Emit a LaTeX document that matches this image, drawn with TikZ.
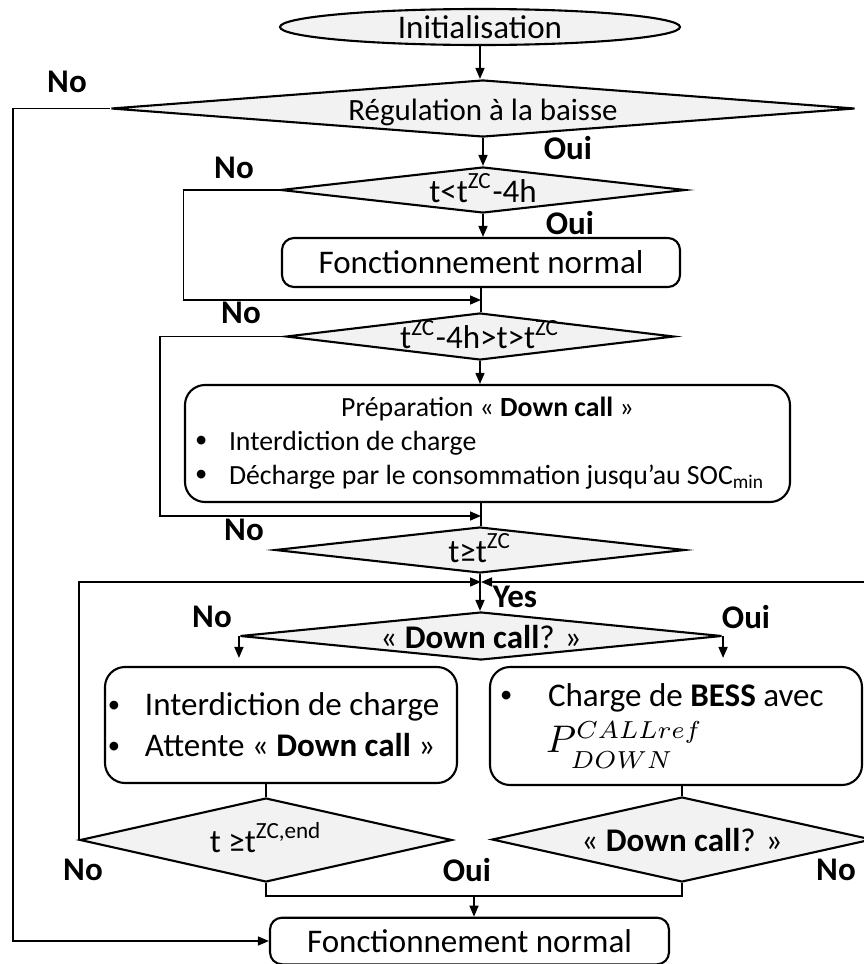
\documentclass[tikz,border=0pt]{standalone}
\usepackage{fontspec}
\setmainfont{Carlito}
\usetikzlibrary{arrows.meta, positioning, shapes.geometric}

\newcommand{\bul}[1]{\makebox[#1][l]{\fontsize{7pt}{7pt}\selectfont\raisebox{0.3ex}{\textbullet}}}

\begin{document}
\begin{tikzpicture}[
    font=\fontsize{9.4pt}{11pt}\selectfont,
    term/.style={ellipse, draw=black, line width=0.6pt, fill=black!5, inner sep=0pt},
    dec/.style={diamond, draw=black, line width=0.6pt, fill=black!5, inner sep=0pt,
                text height=0.7em, text depth=0pt},
    proc/.style={draw=black, line width=0.6pt, rounded corners=1.2mm, fill=white},
    fl/.style={-{Triangle[length=1.1mm, width=0.9mm]}, line width=0.45pt},
    ln/.style={line width=0.45pt},
    lab/.style={font=\fontsize{9.4pt}{11pt}\selectfont\bfseries}
  ]
    \useasboundingbox (0,0) rectangle (8.64,-9.64);
    % ---- départ ----
    \node[term, minimum width=40mm, minimum height=3.6mm] (init) at (4.80,-0.27) {Initialisation};
    \node[dec, minimum width=74.4mm, minimum height=5.7mm, shape aspect=13,
          font=\fontsize{8.8pt}{10pt}\selectfont] (reg) at (4.83,-1.085) {Régulation à la baisse};
    % ---- avant la fenêtre ----
    \node[dec, minimum width=40.5mm, minimum height=4.6mm, shape aspect=8.8] (avant) at (4.83,-1.90)
      {t<t\textsuperscript{ZC}-4h};
    \node[proc, minimum width=39.8mm, minimum height=4.9mm] (normal1) at (4.81,-2.625) {Fonctionnement normal};
    \coordinate (j1) at (4.81,-3.00);
    \node[dec, minimum width=38.8mm, minimum height=4.7mm, shape aspect=8.3] (fenetre) at (4.80,-3.365)
      {t\textsuperscript{ZC}-4h>t>t\textsuperscript{ZC}};
    % ---- préparation ----
    \node[proc, rounded corners=2mm, text width=58.5mm, inner xsep=1mm, minimum height=11.7mm,
          align=flush left, font=\fontsize{7.9pt}{9.7pt}\selectfont] (prep) at (4.875,-4.435)
      {{\centering Préparation « \textbf{Down call} »\par}
       \bul{3.4mm}Interdiction de charge\\
       \bul{3.4mm}Décharge par le consommation jusqu’au SOC\textsubscript{min}};
    \coordinate (j2) at (4.81,-5.16);
    \node[dec, minimum width=41mm, minimum height=4.6mm, shape aspect=8.9] (zc) at (4.80,-5.50)
      {t≥t\textsuperscript{ZC}};
    \coordinate (j3) at (4.81,-5.82);
    % ---- appel ----
    \node[dec, minimum width=48.2mm, minimum height=4.8mm, shape aspect=10] (appel) at (4.81,-6.36)
      {« \textbf{Down call}? »};
    \node[proc, rounded corners=2mm, text width=34.6mm, inner xsep=0.3mm, minimum height=11.6mm,
          align=flush left, font=\fontsize{9.4pt}{11.7pt}\selectfont] (attente) at (2.81,-7.25)
      {\bul{3.7mm}Interdiction de charge\\ \bul{3.7mm}Attente « \textbf{Down call} »};
    \node[proc, rounded corners=2mm, text width=35.2mm, inner xsep=1mm, minimum height=11.8mm,
          align=flush left, font=\fontsize{9.4pt}{13pt}\selectfont] (charge) at (6.76,-7.26)
      {\bul{4.8mm}Charge de \textbf{BESS} avec\\
       \hspace*{4.6mm}{\fontsize{10.5pt}{12pt}\selectfont
        $P^{CALLref}_{\raisebox{-0.4ex}{$\scriptstyle DOWN$}}$}};
    \node[dec, minimum width=37.2mm, minimum height=8.4mm, shape aspect=4.4] (fin) at (2.66,-8.40)
      {t ≥t\textsuperscript{ZC,end}};
    \node[dec, minimum width=38mm, minimum height=8.5mm, shape aspect=4.5] (appel2) at (6.82,-8.395)
      {« \textbf{Down call}? »};
    \coordinate (j4) at (4.74,-8.95);
    \node[proc, minimum width=39.9mm, minimum height=4.3mm] (normal2) at (4.695,-9.41) {Fonctionnement normal};
    % ---- étiquettes ----
    \node[lab] (no1) at (0.67,-0.82) {No};
    \node[lab] (oui1) at (5.68,-1.48) {Oui};
    \node[lab] (no2) at (2.34,-1.68) {No};
    \node[lab] (oui2) at (5.70,-2.23) {Oui};
    \node[lab] (no3) at (2.41,-3.13) {No};
    \node[lab] (no4) at (2.44,-5.30) {No};
    \node[lab] (yes) at (5.15,-5.97) {Yes};
    \node[lab] (no5) at (2.12,-6.17) {No};
    \node[lab] (oui3) at (7.46,-6.17) {Oui};
    \node[lab] (no6) at (0.83,-8.70) {No};
    \node[lab] (oui4) at (4.67,-8.70) {Oui};
    \node[lab] (no7) at (8.36,-8.70) {No};
    % ---- flèches ----
    \draw[fl] (init.south) -- (init.south |- reg.north);
    \draw[fl] (reg.south) -- (avant.north);
    \draw[fl] (reg.west) -- ++(-9.7mm,0) |- (normal2.west);
    \draw[fl] (avant.south) -- (avant.south |- normal1.north);
    \draw[fl] (avant.west) -- ++(-9.6mm,0) |- (j1);
    \draw[ln] (normal1.south) -- (normal1.south |- fenetre.north);
    \draw[fl] (fenetre.south) -- (fenetre.south |- prep.north);
    \draw[fl] (fenetre.west) -- ++(-12.5mm,0) |- (j2);
    \draw[ln] (j2 |- prep.south) -- (j2 |- zc.north);
    \draw[fl] (zc.south) -- (zc.south |- appel.north);
    \draw[fl] (fin.west) |- (j3);
    \draw[fl] (appel2.east) -- ++(3mm,0) |- (j3);
    \draw[fl] (appel.west) -- ([yshift=0.8mm]appel.west |- attente.north);
    \draw[fl] (appel.east) -- ([yshift=0.8mm]appel.east |- charge.north);
    \draw[ln] (fin.north |- attente.south) -- (fin.north);
    \draw[ln] (appel2.north |- charge.south) -- (appel2.north);
    \draw[ln] (fin.south) -- ++(0,-1.3mm) -| (appel2.south);
    \draw[fl] (j4) -- (j4 |- normal2.north);
  \end{tikzpicture}
\end{document}
